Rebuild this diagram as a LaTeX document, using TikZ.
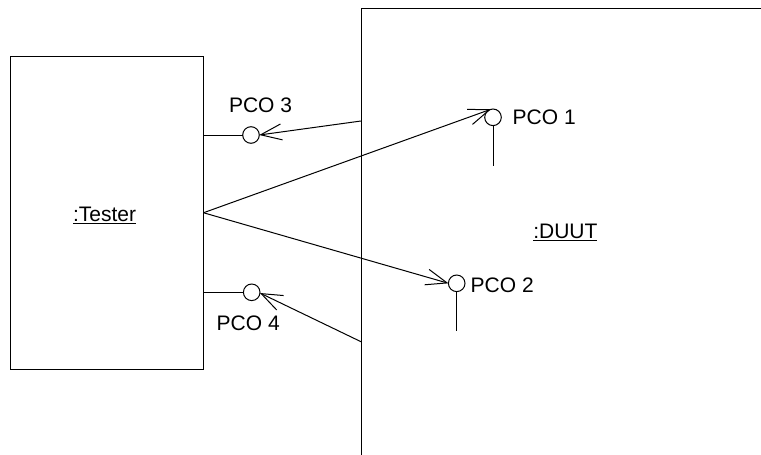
\documentclass[tikz,border=0pt]{standalone}
\usepackage{fontspec}
\setmainfont{Liberation Sans}
\usetikzlibrary{arrows.meta}
\begin{document}
\begin{tikzpicture}[x=1pt,y=-1pt,line width=1pt,
  font=\fontsize{21}{25}\selectfont,
  obj/.style={draw,rectangle,inner sep=0pt,outer sep=0pt},
  pco/.style={draw,circle,minimum size=16.6pt,inner sep=0pt,outer sep=0pt},
  lbl/.style={anchor=base west,inner sep=0pt,outer sep=0pt},
  msg/.style={-{Straight Barb[length=21pt,width=16pt]}}]
\useasboundingbox (0,0) rectangle (761,455);
\fill[white] (0,0) rectangle (761,455);
% Tester
\node[obj,minimum width=193.5pt,minimum height=312.5pt] (tester) at (106.75,212.75) {};
\node[lbl] (testerlbl) at (73,221.7) {\underline{:Tester}};
% DUUT (extends beyond the picture)
\begin{scope}
\clip (0,0) rectangle (761,455);
\node[obj,minimum width=430pt,minimum height=470pt] (duut) at (576,243) {};
\end{scope}
\node[lbl] (duutlbl) at (533.3,238.3) {\underline{:DUUT}};
% PCOs
\node[pco] (pco3) at (251,135) {};
\node[pco] (pco4) at (251.7,292.3) {};
\node[pco] (pco1) at (493,117.3) {};
\node[pco] (pco2) at (456.7,283.3) {};
\node[lbl] (l3) at (229,112.3) {PCO 3};
\node[lbl] (l4) at (216.7,330) {PCO 4};
\node[lbl] (l1) at (512.7,124.7) {PCO 1};
\node[lbl] (l2) at (470.7,292.7) {PCO 2};
% stems
\coordinate (s1) at (493,166);
\coordinate (s2) at (456.7,331);
\draw (pco1.south) -- (s1);
\draw (pco2.south) -- (s2);
\draw (tester.east |- pco3) -- (pco3.west);
\draw (tester.east |- pco4) -- (pco4.west);
% messages
\coordinate (d3) at (361,121);
\coordinate (d4) at (361,341.7);
\draw[msg] (d3) -- (pco3.east);
\draw[msg] (d4) -- (pco4.-5);
\draw[msg] (tester.east) -- (pco1.105);
\draw[msg] (tester.east) -- (pco2.west);
\end{tikzpicture}
\end{document}
